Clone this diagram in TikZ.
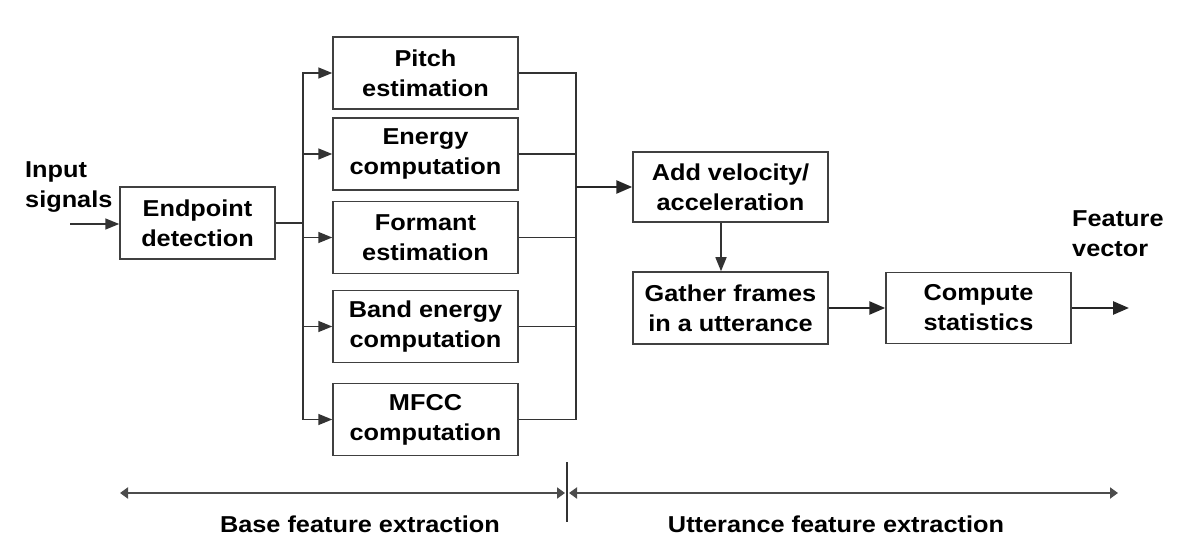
\documentclass[tikz,border=0pt]{standalone}
\usepackage{fontspec}
\setmainfont{Liberation Sans}[FakeStretch=1.1]
\usetikzlibrary{arrows.meta}
\begin{document}
\begin{tikzpicture}[x=1pt,y=-1pt,
  every node/.style={font=\fontsize{23}{30}\selectfont\bfseries, text=black},
  blk/.style={draw=black!75, line width=1.5pt, align=center, minimum width=185pt, minimum height=72pt, inner sep=0pt},
  conn/.style={draw=black!80, line width=1.5pt},
  arr/.style={conn, -{Triangle[length=14pt,width=11pt]}},
  thickarr/.style={draw=black!85, line width=2.6pt, -{Triangle[length=16pt,width=13pt]}},
  span/.style={draw=black!70, line width=2.6pt, {Triangle[length=8pt,width=11pt]}-{Triangle[length=8pt,width=11pt]}}
]
\useasboundingbox (0,0) rectangle (1196,553);

% first stage
\node[blk, minimum width=155pt] (endpoint) at (197.5,223) {Endpoint\\detection};
\node[align=left, anchor=north west, inner sep=0pt] (inlabel) at (25,161) {Input\\signals};
\coordinate (in) at (70,224);
\draw[arr] (in) -- (endpoint.west |- in);

% parallel boxes
\node[blk] (pitch)   at (425.5,73)    {Pitch\\estimation};
\node[blk] (energy)  at (425.5,154)   {Energy\\computation};
\node[blk] (formant) at (425.5,237.5) {Formant\\estimation};
\node[blk] (band)    at (425.5,326.5) {Band energy\\computation};
\node[blk] (mfcc)    at (425.5,419.5) {MFCC\\computation};

\coordinate (bx) at (303,223);
\draw[conn] (endpoint.east) -- (bx);
\foreach \b in {pitch,energy,formant,band,mfcc}{
  \draw[arr] (bx) |- (\b.west);
}

\coordinate (mx) at (576,187);
\foreach \b in {pitch,energy,formant,band,mfcc}{
  \draw[conn] (\b.east) -| (mx);
}

% utterance stage
\node[blk, minimum width=195pt, minimum height=70pt] (add)    at (730.5,187) {Add velocity/\\acceleration};
\node[blk, minimum width=195pt] (gather) at (730.5,308) {Gather frames\\in a utterance};
\node[blk, minimum height=71pt] (compute) at (978.5,308) {Compute\\statistics};
\draw[thickarr] (mx) -- (add.west);
\draw[arr] ([xshift=-9.5pt]add.south) -- ([xshift=-9.5pt]gather.north);
\draw[thickarr] (gather.east) -- (compute.west);
\coordinate (out) at (1129,308);
\draw[thickarr] (compute.east) -- (out);
\node[align=left, anchor=north west, inner sep=0pt] (outlabel) at (1072,210) {Feature\\vector};

% bottom spans
\coordinate (bl) at (120,493);
\coordinate (bm1) at (565,493);
\coordinate (bm2) at (569,493);
\coordinate (br) at (1118,493);
\coordinate (dt) at (567,462);
\coordinate (db) at (567,522);
\draw[span] (bl) -- (bm1);
\draw[span] (bm2) -- (br);
\draw[conn, line width=1.2pt] (dt) -- (db);
\node[anchor=base] (base) at (360,532) {Base feature extraction};
\node[anchor=base] (utt) at (836,532) {Utterance feature extraction};
\end{tikzpicture}
\end{document}
